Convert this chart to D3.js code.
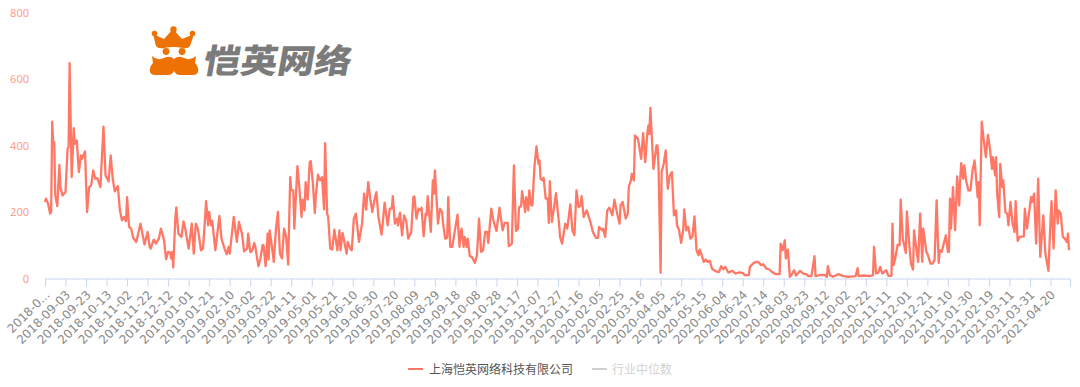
<!DOCTYPE html>
<html>
<head>
<meta charset="utf-8">
<script src="https://cdn.jsdelivr.net/npm/d3@7"></script>
<style>
  html, body { margin: 0; padding: 0; background: #fff; overflow: hidden; }
  .line { fill: none; stroke: #ff7866; stroke-width: 2.3; stroke-linejoin: round; }
  .axis-x path, .axis-x line { stroke: #c9d5ee; }
  .axis-x text { fill: #8a8a8a; font: 12px "DejaVu Sans", sans-serif; }
  .axis-y text { fill: #ff9c8c; font: 11px "Noto Sans", sans-serif; }
  .legend text { font: 12px "Noto Sans CJK SC", sans-serif; }
</style>
</head>
<body>
<div id="chart"></div>
<script>
// tick labels, one every 20 days from 2018-08-14 (first one is cut short in the source)
const tickLabels = ["2018-0...","2018-09-03","2018-09-23","2018-10-13","2018-11-02","2018-11-22","2018-12-12",
  "2019-01-01","2019-01-21","2019-02-10","2019-03-02","2019-03-22","2019-04-11","2019-05-01","2019-05-21",
  "2019-06-10","2019-06-30","2019-07-20","2019-08-09","2019-08-29","2019-09-18","2019-10-08","2019-10-28",
  "2019-11-17","2019-12-07","2019-12-27","2020-01-16","2020-02-05","2020-02-25","2020-03-16","2020-04-05",
  "2020-04-25","2020-05-15","2020-06-04","2020-06-24","2020-07-14","2020-08-03","2020-08-23","2020-09-12",
  "2020-10-02","2020-10-22","2020-11-11","2020-12-01","2020-12-21","2021-01-10","2021-01-30","2021-02-19",
  "2021-03-11","2021-03-31","2021-04-20"];
const yTicks = [0, 200, 400, 600, 800];
const seriesNames = ["上海恺英网络科技有限公司", "行业中位数"];

// turning points of the company line: day number since first date, value
const days2018 = [0,1,3,5,6,7,8,9,10,12,14,15,17,20,22,23,24,26,28,29,31,33,35,36,39,41,43,45,47,49,51,54,57,59,62,64,66,68,71,73,75,77,79,80,82,84,86,89,93,94,97,100,102,103,106,108,111,113,116,118,120,122,123,124,125,127,128,130,133,135,137,140,143,145,147,149,152,154,156,157,159,160,162,163,166,170,172,175,177,179,180,184,187,189,192,194,197,198,200];
const vals2018 = [230,240,225,195,200,472,405,410,250,218,342,275,250,260,390,395,648,305,452,405,415,320,370,360,382,200,275,280,325,300,302,275,457,310,292,370,300,262,278,205,175,185,172,245,155,150,122,110,165,150,102,140,95,90,117,105,120,150,115,58,80,78,60,80,33,180,214,135,125,172,145,90,165,75,165,150,85,90,180,233,160,200,160,173,85,188,120,90,73,95,75,185,110,170,135,82,90,135,80];

const days2019 = [201,202,204,205,208,210,212,213,215,217,218,219,221,223,225,227,229,231,233,235,237,239,240,242,243,246,248,250,251,253,254,256,258,259,261,263,264,266,268,270,272,273,275,276,278,280,282,285,287,288,290,292,294,295,298,299,301,303,306,309,311,313,315,317,319,321,323,325,328,329,331,334,336,338,339,341,343,344,346,348,350,352,354,357,359,360,362,364,366,367,369,371,372,373,376,378,379,380,383,385,387,388,390,392,393,395,397,399,402,404];
const vals2019 = [80,85,107,95,37,60,100,100,37,135,57,145,100,50,145,200,75,60,150,125,42,305,265,265,150,338,270,185,237,205,290,237,350,353,290,197,250,312,295,305,208,407,195,185,90,87,147,85,145,85,137,105,75,110,87,85,180,195,110,165,255,207,290,240,200,235,260,185,132,160,228,160,210,210,248,165,180,160,198,130,190,175,120,140,245,247,180,210,205,213,127,195,190,248,140,295,255,325,165,210,200,165,120,123,245,95,95,135,192,95];

const days2020a = [405,406,408,409,411,412,414,416,419,421,423,425,427,429,431,432,435,437,440,443,444,446,448,451,452,455,457,459,461,462,464,465,468,469,471,472,474,475,477,479,481,482,483,485,486,488,490,491,492,494,496,498,501,502,504,507,509,512,514,516,518,520,522,523,525,528,532,534,537,539,540,543,544,546,548,550,553,555,558,560,561,563,566,568,569,571,572,574,575,578,581,583,585,587,588,589,590,593,596,597,598,600,601,603,605,607,609,611,613];
const vals2020a = [135,150,95,125,95,120,67,65,47,70,180,80,85,140,140,107,210,175,143,213,190,145,167,167,97,105,340,143,150,215,217,263,200,245,205,265,220,220,335,397,345,355,300,295,303,240,240,167,293,170,210,257,165,125,105,165,150,223,145,130,265,215,220,248,185,205,165,140,122,122,155,145,150,125,205,213,190,237,190,165,220,230,180,195,275,295,315,295,430,420,360,437,350,435,460,435,513,330,400,400,335,17,320,345,385,270,310,320,190];

const days2020b = [615,616,618,620,622,623,625,626,627,629,631,633,635,637,638,639,642,644,646,648,650,652,655,657,659,661,663,666,670,673,676,680,682,686,687,690,693,695,698,700,703,706,708,712,716,717,719,721,722,724,726,728,730,732,736,739,742,744,747,750,751,755,760,762,763,765,768,773,778,783,790,792,793,798,804,807,808,810,812];
const vals2020b = [205,160,145,107,145,208,145,155,155,120,125,187,85,70,87,80,50,57,50,53,30,25,20,20,37,28,35,18,23,15,18,17,10,10,35,45,50,50,40,43,30,27,21,13,13,105,85,115,60,87,5,13,25,9,23,15,13,7,7,67,7,10,11,5,37,10,5,13,7,5,7,31,7,9,7,10,95,15,17];

const days2021 = [814,816,820,822,825,826,827,829,831,833,834,836,839,840,842,844,846,847,849,851,853,855,856,859,860,863,865,867,869,871,872,874,876,878,880,881,882,883,885,887,889,891,892,893,895,896,898,900,902,904,906,909,910,911,913,915,917,919,921,923,924,926,927,928,930,931,933,934,936,938,939,941,943,945,946,948,950,954,955,957,959,961,962,964,966,968,970,973,975,978,980,981,983,985,987,988,990,992,994,996,997,998];
const vals2021 = [35,15,25,8,8,165,40,65,102,100,237,120,77,202,115,45,27,145,95,50,195,50,150,80,75,45,45,55,235,47,85,80,105,130,80,80,240,150,275,145,307,220,300,347,300,340,290,265,265,325,355,245,290,160,472,415,365,432,390,330,365,310,365,255,185,345,275,295,200,193,160,230,165,140,233,113,125,127,210,150,195,245,230,255,105,300,65,190,75,23,175,233,90,265,165,205,195,125,120,110,135,85];

const dayNums = days2018.concat(days2019, days2020a, days2020b, days2021);
const values = vals2018.concat(vals2019, vals2020a, vals2020b, vals2021);
const tickDays = tickLabels.map((d, i) => i * 20);
const totalDays = 999;

const width = 1080, height = 387;
const margin = {top: 12.5, right: 10, bottom: 108.5, left: 45};

const svg = d3.select("#chart").append("svg")
    .attr("width", width)
    .attr("height", height)
    .style("display", "block");

const x = d3.scaleLinear().domain([0, totalDays]).range([margin.left, width - margin.right]);
const y = d3.scaleLinear().domain([0, 800]).range([height - margin.bottom, margin.top]);

// y labels only, no axis line or grid
const yAxis = svg.append("g")
    .attr("class", "axis-y")
    .attr("transform", "translate(" + (margin.left - 16) + ",0)")
    .call(d3.axisLeft(y).tickValues(yTicks).tickSize(0).tickPadding(0));
yAxis.select(".domain").remove();

const xAxis = svg.append("g")
    .attr("class", "axis-x")
    .attr("transform", "translate(0," + (height - margin.bottom) + ")")
    .call(d3.axisBottom(x).tickValues(tickDays).tickSizeOuter(0).tickSize(8)
      .tickFormat((d, i) => tickLabels[i]));

xAxis.selectAll("text")
    .attr("text-anchor", "end")
    .attr("dx", null)
    .attr("dy", null)
    .attr("y", 0)
    .attr("transform", d => "translate(5,17) rotate(-45)");

const line = d3.line()
    .x(d => x(d[0]))
    .y(d => y(d[1]));

svg.append("path")
    .datum(d3.zip(dayNums, values))
    .attr("class", "line")
    .attr("d", line);

// legend
const legend = svg.append("g").attr("class", "legend");
const legendItems = [
  {lx: 408, tx: 429, stroke: "#ff7866", fill: "#555"},
  {lx: 592, tx: 612, stroke: "#cfcfcf", fill: "#d2d2d2"}
];
legendItems.forEach(function(item, i) {
  legend.append("line")
    .attr("x1", item.lx).attr("x2", item.lx + 15)
    .attr("y1", 369).attr("y2", 369)
    .attr("stroke", item.stroke).attr("stroke-width", 2);
  legend.append("text")
    .attr("x", item.tx).attr("y", 373.5)
    .attr("fill", item.fill)
    .text(seriesNames[i]);
});

// logo watermark
const logo = svg.append("g");
logo.append("path").attr("fill", "#ee7203")
  .attr("d", "M153,34 L164,39 L173,29 L182,39 L194,34 L190,46 Q188,49 183,48 Q173,46 164,48 Q158,49 156,46 Z");
[[154.5, 33.5, 2.8], [173.5, 29.5, 3.2], [192.5, 33.5, 2.8], [166, 51.5, 3.4], [182, 51.5, 3.4]].forEach(function(c) {
  logo.append("circle").attr("cx", c[0]).attr("cy", c[1]).attr("r", c[2]).attr("fill", "#ee7203");
});
logo.append("path").attr("fill", "#ee7203")
  .attr("d", "M152,56 Q157,61 164,58 Q170,55 174,59 Q178,55 184,58 Q191,61 196,56 L195,63 Q199,67 198,72 Q197,75 193,75 L180,75 Q176,75 174,71 Q172,75 168,75 L155,75 Q151,75 150,72 Q149,67 153,63 Z");
logo.append("text")
  .attr("transform", "translate(202,73) skewX(-10) scale(1,0.9)")
  .attr("fill", "#7b7b7b")
  .style("font", "900 37px 'Noto Sans CJK SC', sans-serif")
  .text("恺英网络");
</script>
</body>
</html>
